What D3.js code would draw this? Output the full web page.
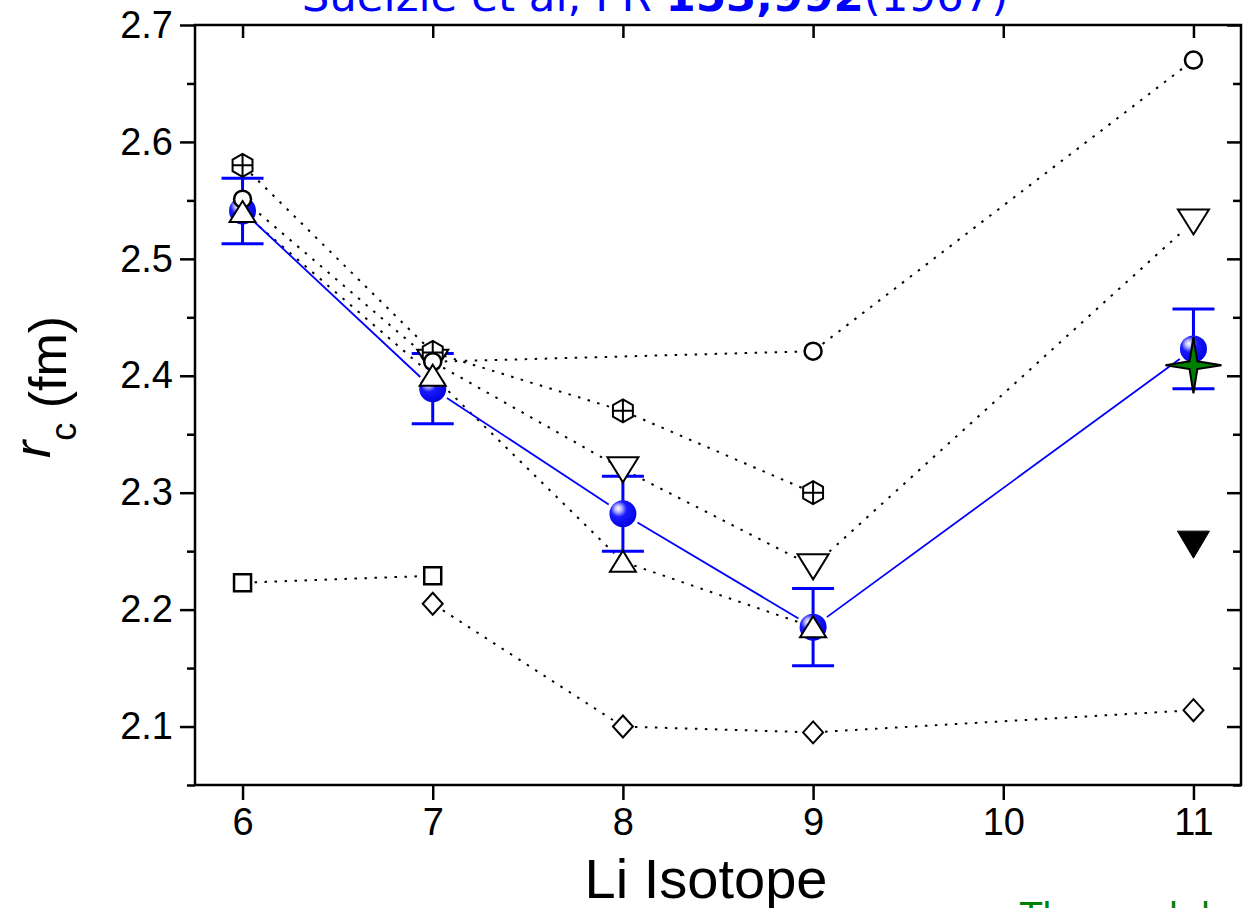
<!DOCTYPE html>
<html>
<head>
<meta charset="utf-8">
<script src="https://cdn.jsdelivr.net/npm/d3@7"></script>
<style>
  html, body { margin: 0; padding: 0; background: #fff; }
  svg { display: block; }
</style>
</head>
<body>
<svg id="chart" width="1245" height="908"></svg>
<script>
// Li isotope charge radii r_c (fm) versus mass number
const isotopes = [6, 7, 8, 9, 10, 11];
const yTicks = [2.1, 2.2, 2.3, 2.4, 2.5, 2.6, 2.7];

// measured radii with uncertainties
const expA = [6, 7, 8, 9, 11];
const expR = [2.541, 2.389, 2.282, 2.185, 2.423];
const expErr = [0.028, 0.030, 0.032, 0.033, 0.034];

// model calculations
const hexA = [6, 7, 8, 9];
const hexR = [2.58, 2.42, 2.37, 2.30];
const circA = [6, 7, 9, 11];
const circR = [2.551, 2.412, 2.421, 2.670];
const downA = [7, 8, 9, 11];
const downR = [2.412, 2.320, 2.237, 2.532];
const upA = [6, 7, 8, 9];
const upR = [2.540, 2.400, 2.241, 2.185];
const sqA = [6, 7];
const sqR = [2.223, 2.229];
const diaA = [7, 8, 9, 11];
const diaR = [2.205, 2.100, 2.095, 2.114];
const solidDownA = [11];
const solidDownR = [2.256];
const starA = [11];
const starR = [2.409];

(function () {
const svg = d3.select("#chart");
const pL = 195, pR = 1241, pT = 25, pB = 785;
const x = d3.scaleLinear().domain([5.75, 11.25]).range([pL, pR]);
const y = d3.scaleLinear().domain([2.05, 2.7]).range([pB, pT]);

const zip = (a, r) => a.map((v, i) => [x(v), y(r[i])]);

// sphere gradient
const defs = svg.append("defs");
const grad = defs.append("radialGradient").attr("id", "ball")
  .attr("cx", "0.38").attr("cy", "0.36").attr("r", "0.7")
  .attr("fx", "0.32").attr("fy", "0.3");
grad.append("stop").attr("offset", "0").attr("stop-color", "#ffffff");
grad.append("stop").attr("offset", "0.18").attr("stop-color", "#b8b8ff");
grad.append("stop").attr("offset", "0.42").attr("stop-color", "#1a1aff");
grad.append("stop").attr("offset", "1").attr("stop-color", "#0000e0");

// title (runs past the upper edge)
const title = svg.append("text")
  .attr("x", 655).attr("y", 11)
  .attr("text-anchor", "middle")
  .attr("fill", "#0000ff")
  .style("font-family", "'DejaVu Sans', sans-serif")
  .style("font-size", "43.5px");
title.append("tspan").text("Suelzle et al, PR ");
title.append("tspan").style("font-weight", "bold").text("153,992");
title.append("tspan").text("(1967)");

// connecting segments, trimmed so they stop short of the symbols
function gappedPath(pts, gap) {
  let d = "";
  for (let i = 0; i < pts.length - 1; i++) {
    const [x1, y1] = pts[i], [x2, y2] = pts[i + 1];
    const L = Math.hypot(x2 - x1, y2 - y1);
    if (L <= 2 * gap) continue;
    const ux = (x2 - x1) / L, uy = (y2 - y1) / L;
    d += `M${x1 + ux * gap},${y1 + uy * gap}L${x2 - ux * gap},${y2 - uy * gap}`;
  }
  return d;
}

const dotted = [[sqA, sqR], [diaA, diaR], [hexA, hexR], [circA, circR], [downA, downR], [upA, upR]];
dotted.forEach(([a, r]) => {
  svg.append("path")
    .attr("d", gappedPath(zip(a, r), 12))
    .attr("fill", "none").attr("stroke", "#000")
    .attr("stroke-width", 2).attr("stroke-dasharray", "2.5,7.5");
});

svg.append("path")
  .attr("d", gappedPath(zip(expA, expR), 17))
  .attr("fill", "none").attr("stroke", "#0000ff").attr("stroke-width", 1.8);

// error bars
const eb = svg.append("g").attr("stroke", "#0000ff").attr("stroke-width", 3);
expA.forEach((a, i) => {
  const cx = x(a), y1 = y(expR[i] + expErr[i]), y2 = y(expR[i] - expErr[i]);
  eb.append("line").attr("x1", cx).attr("x2", cx).attr("y1", y1).attr("y2", y2);
  eb.append("line").attr("x1", cx - 21).attr("x2", cx + 21).attr("y1", y1).attr("y2", y1);
  eb.append("line").attr("x1", cx - 21).attr("x2", cx + 21).attr("y1", y2).attr("y2", y2);
});

// spheres
svg.append("g").selectAll("circle").data(zip(expA, expR)).join("circle")
  .attr("cx", d => d[0]).attr("cy", d => d[1]).attr("r", 13.5)
  .attr("fill", "url(#ball)");

// symbol shapes
const shapes = {
  square: () => "M-8.5,-8.5H8.5V8.5H-8.5Z",
  diamond: () => "M0,-11L10,0L0,11L-10,0Z",
  circle: () => "M8.5,0A8.5,8.5 0 1 1 -8.5,0A8.5,8.5 0 1 1 8.5,0Z",
  hex: () => {
    const r = 11.5;
    let p = d3.range(6).map(k => {
      const t = -Math.PI / 2 + k * Math.PI / 3;
      return [r * Math.cos(t), r * Math.sin(t)];
    });
    return "M" + p.map(q => q.join(",")).join("L") + "Z" +
      `M0,${-r}V${r}M${-r * 0.866},0H${r * 0.866}`;
  },
  up: () => "M0,-11L13,10L-13,10Z",
  down: () => "M0,13L15.5,-12L-15.5,-12Z",
  solidDown: () => "M0,14L16,-13L-16,-13Z",
  star: () => {
    const ro = 28, ri = 5.5;
    let p = [];
    for (let k = 0; k < 8; k++) {
      const t = -Math.PI / 2 + k * Math.PI / 4;
      const r = k % 2 === 0 ? ro : ri;
      p.push([r * Math.cos(t), r * Math.sin(t)]);
    }
    return "M" + p.map(q => q.join(",")).join("L") + "Z";
  }
};

function drawSymbols(a, r, shape, fill, stroke, sw) {
  svg.append("g").selectAll("path").data(zip(a, r)).join("path")
    .attr("transform", d => `translate(${d[0]},${d[1]})`)
    .attr("d", shapes[shape]())
    .attr("fill", fill).attr("stroke", stroke).attr("stroke-width", sw)
    .attr("stroke-linejoin", "miter");
}

drawSymbols(sqA, sqR, "square", "#fff", "#000", 2.5);
drawSymbols(diaA, diaR, "diamond", "#fff", "#000", 2);
drawSymbols(downA, downR, "down", "#fff", "#000", 2);
drawSymbols(hexA, hexR, "hex", "#fff", "#000", 2);
drawSymbols(circA, circR, "circle", "#fff", "#000", 2.5);
drawSymbols(upA, upR, "up", "#fff", "#000", 2);
drawSymbols(solidDownA, solidDownR, "solidDown", "#000", "#000", 1);
drawSymbols(starA, starR, "star", "#008000", "#000", 2);

// frame and axes
const font = "'Liberation Sans', Arial, sans-serif";
svg.append("rect").attr("x", pL).attr("y", pT)
  .attr("width", pR - pL).attr("height", pB - pT)
  .attr("fill", "none").attr("stroke", "#000").attr("stroke-width", 2.5);

const minorY = d3.range(2.05, 2.701, 0.1).map(v => +v.toFixed(2));

const xAxis = svg.append("g").attr("transform", `translate(0,${pB})`)
  .call(d3.axisBottom(x).tickValues(isotopes).tickFormat(d3.format("d"))
    .tickSize(15).tickSizeOuter(0).tickPadding(8));
const xTop = svg.append("g").attr("transform", `translate(0,${pT})`)
  .call(d3.axisBottom(x).tickValues(isotopes).tickSize(13).tickSizeOuter(0).tickFormat(""));
const yAxis = svg.append("g").attr("transform", `translate(${pL},0)`)
  .call(d3.axisLeft(y).tickValues(yTicks).tickFormat(d3.format(".1f"))
    .tickSize(15).tickSizeOuter(0).tickPadding(7));
const yMinor = svg.append("g").attr("transform", `translate(${pL},0)`)
  .call(d3.axisLeft(y).tickValues(minorY).tickSize(8).tickSizeOuter(0).tickFormat(""));
const yRight = svg.append("g").attr("transform", `translate(${pR},0)`)
  .call(d3.axisLeft(y).tickValues(yTicks).tickSize(14).tickSizeOuter(0).tickFormat(""));
const yRightMinor = svg.append("g").attr("transform", `translate(${pR},0)`)
  .call(d3.axisLeft(y).tickValues(minorY).tickSize(8).tickSizeOuter(0).tickFormat(""));

[xAxis, xTop, yAxis, yMinor, yRight, yRightMinor].forEach(g => {
  g.select(".domain").remove();
  g.selectAll(".tick line").attr("stroke", "#000").attr("stroke-width", 2.5);
  g.selectAll(".tick text").attr("fill", "#000")
    .style("font-family", font).style("font-size", "38px");
});

// axis titles
svg.append("text")
  .attr("x", 706).attr("y", 898)
  .attr("text-anchor", "middle")
  .style("font-family", font).style("font-size", "56px")
  .text("Li Isotope");

const yl = svg.append("text")
  .attr("transform", "translate(66,387) rotate(-90)")
  .attr("text-anchor", "middle")
  .style("font-family", font).style("font-size", "52px");
yl.append("tspan").attr("dy", -16).style("font-style", "italic").text("r");
yl.append("tspan").attr("dy", 26).style("font-size", "36px").text("c");
yl.append("tspan").attr("dy", -10).text(" (fm)");

// caption running off the lower edge
svg.append("text")
  .attr("x", 1020).attr("y", 928)
  .attr("fill", "#008000")
  .style("font-family", "'DejaVu Sans', sans-serif")
  .style("font-size", "36px")
  .text("The model");
})();
</script>
</body>
</html>
